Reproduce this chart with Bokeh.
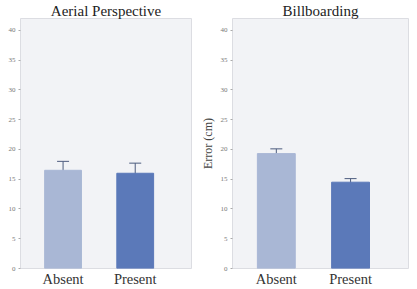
from bokeh.plotting import figure
from bokeh.layouts import row
from bokeh.models import ColumnDataSource, Range1d, FixedTicker, Whisker
from bokeh.embed import file_html
from bokeh.resources import INLINE

categories = ["Absent", "Present"]
titles = ["Aerial Perspective", "Billboarding"]
aerial_mean = [16.5, 16.0]
aerial_err = [1.5, 1.7]
bill_mean = [19.3, 14.5]
bill_err = [0.8, 0.6]
y_ticks = [0, 5, 10, 15, 20, 25, 30, 35, 40]
bar_colors = ["#a9b7d5", "#5b79b9"]

FONT = "Liberation Serif"
X0, X1 = -0.59, 1.78
Y1 = 42.0


def make_panel(title, means, errs, width, border_left, border_right, ylabel):
    p = figure(width=width, height=289, output_backend="svg", toolbar_location=None,
               x_range=Range1d(X0, X1), y_range=Range1d(0, Y1),
               min_border_left=border_left, min_border_right=border_right,
               min_border_top=0, min_border_bottom=21)
    xs = list(range(len(categories)))
    src = ColumnDataSource(dict(x=xs, top=means, color=bar_colors,
                                upper=[m + e for m, e in zip(means, errs)],
                                lower=[m - e for m, e in zip(means, errs)]))
    p.vbar(x="x", top="top", width=0.51, bottom=0, fill_color="color",
           line_color="color", line_width=1, source=src)
    w = Whisker(base="x", upper="upper", lower="lower", source=src,
                line_color="#4d5c7e", line_width=1)
    w.upper_head.size = 12
    w.lower_head.size = 12
    w.upper_head.line_color = "#4d5c7e"
    w.lower_head.line_color = "#4d5c7e"
    p.add_layout(w)

    p.title.text = title
    p.title.text_font = FONT
    p.title.text_font_size = "15px"
    p.title.text_font_style = "normal"
    p.title.text_color = "#222222"
    p.title.align = "center"
    p.title.standoff = 0
    p.title.offset = 0
    p.title.text_line_height = 0.8

    p.background_fill_color = "#f2f3f6"
    p.border_fill_color = "white"
    p.outline_line_color = "#dcdde2"
    p.grid.visible = False

    p.xaxis.ticker = FixedTicker(ticks=xs)
    p.xaxis.major_label_overrides = {i: c for i, c in enumerate(categories)}
    p.xaxis.major_label_text_font = FONT
    p.xaxis.major_label_text_font_size = "14.5px"
    p.xaxis.major_label_text_color = "#333333"
    p.xaxis.major_label_standoff = 2
    p.xaxis.major_tick_out = 0
    p.xaxis.major_tick_in = 0
    p.xaxis.axis_line_color = None
    p.xaxis.major_tick_line_color = None
    p.xaxis.minor_tick_line_color = None

    p.yaxis.ticker = FixedTicker(ticks=y_ticks)
    p.yaxis.major_label_text_font = FONT
    p.yaxis.major_label_text_font_size = "7px"
    p.yaxis.major_label_text_color = "#777777"
    p.yaxis.axis_line_color = None
    p.yaxis.major_tick_line_color = "#aaaaaa"
    p.yaxis.major_tick_out = 2
    p.yaxis.major_tick_in = 0
    p.yaxis.minor_tick_line_color = None
    p.yaxis.major_label_standoff = 3
    if ylabel:
        p.yaxis.axis_label = ylabel
        p.yaxis.axis_label_text_font = FONT
        p.yaxis.axis_label_text_font_size = "12px"
        p.yaxis.axis_label_text_font_style = "normal"
        p.yaxis.axis_label_text_color = "#444444"
        p.yaxis.axis_label_standoff = 3
    return p


p1 = make_panel(titles[0], aerial_mean, aerial_err, 197, 20, 6, None)
p2 = make_panel(titles[1], bill_mean, bill_err, 220, 32, 9, "Error (cm)")

layout = row(p1, p2, spacing=0)
open("out.html", "w").write(file_html(layout, INLINE))
